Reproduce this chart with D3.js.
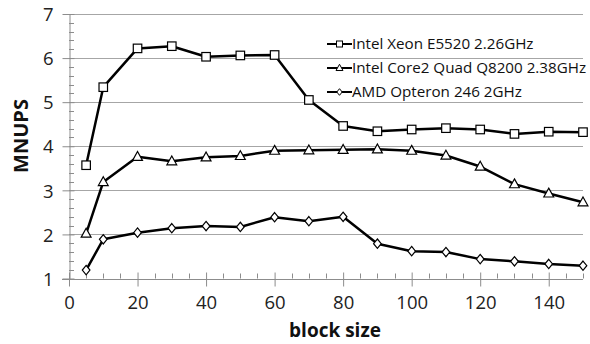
<!DOCTYPE html>
<html><head><meta charset="utf-8">
<script src="https://cdn.jsdelivr.net/npm/d3@7"></script>
<style>body{margin:0;background:#fff}svg{display:block}</style>
</head><body>
<script>
const blockSizes = [5,10,20,30,40,50,60,70,80,90,100,110,120,130,140,150];
const xeon  = [3.57,5.34,6.22,6.27,6.03,6.06,6.07,5.05,4.46,4.34,4.38,4.41,4.38,4.28,4.33,4.32];
const core2 = [2.02,3.19,3.76,3.66,3.75,3.78,3.90,3.91,3.92,3.93,3.90,3.79,3.54,3.14,2.93,2.73];
const amd   = [1.19,1.89,2.04,2.14,2.19,2.17,2.39,2.30,2.40,1.79,1.62,1.60,1.44,1.39,1.33,1.29];
const seriesNames = ["Intel Xeon E5520 2.26GHz","Intel Core2 Quad Q8200 2.38GHz","AMD Opteron 246 2GHz"];
const seriesMarkers = ["square","triangle","diamond"];
const xTicks = [0,20,40,60,80,100,120,140];
const yTicks = [1,2,3,4,5,6,7];
const xTitle = "block size", yTitle = "MNUPS";

const W=590,H=344;
const svg=d3.select("body").append("svg").attr("width",W).attr("height",H);
const x=d3.scaleLinear().domain([0,150]).range([69,583]);
const y=d3.scaleLinear().domain([1,7]).range([278.5,14]);
const grid="#a6a6a6", axc="#8c8c8c";
const font="'Open Sans', sans-serif";

// gridlines
svg.append("g").selectAll("line").data(yTicks.slice(1)).join("line")
  .attr("x1",x(0)).attr("x2",x(150)).attr("y1",d=>Math.round(y(d))+0.5).attr("y2",d=>Math.round(y(d))+0.5)
  .attr("stroke",grid).attr("stroke-width",1);

// y axis minor ticks (inside)
const yMinor=d3.range(1,7.001,0.2).filter(v=>Math.abs(v-Math.round(v))>0.01);
svg.append("g").selectAll("line").data(yMinor).join("line")
  .attr("x1",x(0)).attr("x2",x(0)+5).attr("y1",d=>Math.round(y(d))+0.5).attr("y2",d=>Math.round(y(d))+0.5)
  .attr("stroke",axc);
// x minor ticks
const xMinor=d3.range(5,150.1,5).filter(v=>v%20!==0);
svg.append("g").selectAll("line").data(xMinor).join("line")
  .attr("x1",d=>Math.round(x(d))+0.5).attr("x2",d=>Math.round(x(d))+0.5).attr("y1",y(1)).attr("y2",y(1)-5)
  .attr("stroke",axc);

// y axis
const yAxis=svg.append("g").attr("transform",`translate(${Math.round(x(0))+0.5},0)`)
  .call(d3.axisLeft(y).tickValues(yTicks).tickFormat(d3.format("d")).tickSizeInner(7).tickSizeOuter(0).tickPadding(9));
yAxis.select(".domain").attr("stroke",axc);
yAxis.selectAll(".tick line").attr("stroke",axc).attr("x2",-7).attr("x1",5);
yAxis.selectAll("text").attr("font-family",font).attr("font-size",18.5).attr("fill","#222").attr("dy","0.36em");

// x axis
const xAxis=svg.append("g").attr("transform",`translate(0,${Math.round(y(1))+0.5})`)
  .call(d3.axisBottom(x).tickValues(xTicks).tickFormat(d3.format("d")).tickSizeInner(7).tickSizeOuter(0).tickPadding(9));
xAxis.select(".domain").attr("stroke",axc).attr("d",`M${x(0)-7},0H${x(150)}`);
xAxis.selectAll(".tick line").attr("stroke",axc).attr("y1",-7).attr("y2",7);
xAxis.selectAll("text").attr("font-family",font).attr("font-size",18.5).attr("fill","#222");
// titles
svg.append("text").attr("x",335).attr("y",337).attr("text-anchor","middle")
  .attr("font-family",font).attr("font-weight","bold").attr("font-size",19).attr("fill","#111").text(xTitle);
svg.append("text").attr("transform","translate(28,136) rotate(-90)").attr("text-anchor","middle")
  .attr("font-family",font).attr("font-weight","bold").attr("font-size",20).attr("fill","#111").text(yTitle);

// series
const data=[xeon,core2,amd];
const line=d3.line().x((d,i)=>x(blockSizes[i])).y(d=>y(d));
function marker(g,type,cx,cy,s){
  if(type==="square") g.append("rect").attr("x",cx-s/2).attr("y",cy-s/2).attr("width",s).attr("height",s);
  else if(type==="triangle") g.append("path").attr("d",`M${cx},${cy-s*0.62}L${cx+s*0.58},${cy+s*0.42}L${cx-s*0.58},${cy+s*0.42}Z`);
  else g.append("path").attr("d",`M${cx},${cy-s*0.55}L${cx+s*0.45},${cy}L${cx},${cy+s*0.55}L${cx-s*0.45},${cy}Z`);
}
data.forEach((vals,k)=>{
  svg.append("path").datum(vals).attr("d",line).attr("fill","none").attr("stroke","#000").attr("stroke-width",2.5).attr("stroke-linejoin","round");
  const g=svg.append("g").attr("fill","#fff").attr("stroke","#000").attr("stroke-width",1.2);
  vals.forEach((v,i)=>marker(g,seriesMarkers[k],x(blockSizes[i]),y(v),8.5));
});

// legend
const lg=svg.append("g");
seriesNames.forEach((n,k)=>{
  const ly=44+k*24;
  lg.append("line").attr("x1",327).attr("x2",352).attr("y1",ly).attr("y2",ly).attr("stroke","#000").attr("stroke-width",2);
  const g=lg.append("g").attr("fill","#fff").attr("stroke","#000").attr("stroke-width",1);
  marker(g,seriesMarkers[k],339.5,ly,6);
  lg.append("text").attr("x",352).attr("y",ly).attr("dy","0.35em").attr("font-family",font).attr("font-size",15.2).attr("fill","#111").text(n);
});
</script>
</body></html>
